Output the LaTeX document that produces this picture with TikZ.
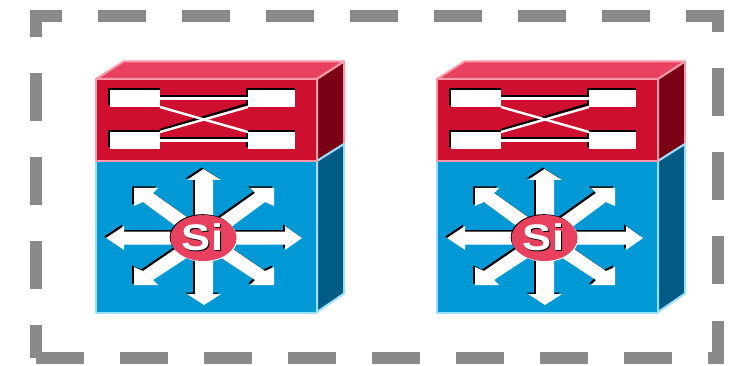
\documentclass[tikz,border=0pt]{standalone}
\usepackage{fontspec}
\setmainfont{Liberation Sans}
\usetikzlibrary{shapes.geometric}
\definecolor{dashgrey}{HTML}{8A8A8A}
\definecolor{redfront}{HTML}{CF0F2F}
\definecolor{redtop}{HTML}{E8405F}
\definecolor{redside}{HTML}{7A0015}
\definecolor{pinkedge}{HTML}{FF99AA}
\definecolor{bluefront}{HTML}{0099D6}
\definecolor{blueside}{HTML}{005C85}
\definecolor{blueedge}{HTML}{99DDFF}
\tikzset{
  redface/.style={draw=pinkedge,line width=2pt,line join=round},
  blueface/.style={draw=blueedge,line width=2pt,line join=round},
  portshadow/.style={fill=black},
  portbox/.style={fill=white},
  wireshadow/.style={draw=black,line width=2.4pt},
  wirelink/.style={draw=white,line width=2.4pt},
  siellipse/.style={ellipse,minimum width=66pt,minimum height=46pt,inner sep=0pt},
  silabel/.style={font=\bfseries\fontsize{37}{37}\selectfont,xscale=1.18,inner sep=0pt}
}
\newcommand{\stararms}[1]{%
  \fill[#1] (203.5,169) -- (221,180) -- (213,180) -- (213,238) -- (195,238) -- (195,180) -- (187,180) -- cycle;
  \fill[#1] (204,305) -- (221,294) -- (213,294) -- (213,238) -- (195,238) -- (195,294) -- (187,294) -- cycle;
  \fill[#1] (106,238) -- (124,226) -- (124,231.5) -- (204,231.5) -- (204,244.5) -- (124,244.5) -- (124,250) -- cycle;
  \fill[#1] (302,238) -- (285,226) -- (285,231.5) -- (204,231.5) -- (204,244.5) -- (285,244.5) -- (285,250) -- cycle;
  \fill[#1] (134,188) -- (158,188) -- (153,193) -- (208,232) -- (200,244) -- (143,202) -- (134,206) -- cycle;
  \fill[#1] (274,188) -- (250,188) -- (255,193) -- (200,232) -- (208,244) -- (265,202) -- (274,206) -- cycle;
  \fill[#1] (134,285) -- (158,285) -- (153,280) -- (208,244) -- (200,232) -- (143,271) -- (134,267) -- cycle;
  \fill[#1] (274,285) -- (250,285) -- (255,280) -- (200,244) -- (208,232) -- (265,271) -- (274,267) -- cycle;
}
\newcommand{\switchunit}[2]{%
\begin{scope}[shift={(#1,0)}]
  \path[redface,fill=redtop] (96,79) -- (123.5,61.5) -- (344,61.5) -- (317,79) -- cycle;
  \path[redface,fill=redside] (317,79) -- (344,61.5) -- (344,144) -- (317,161) -- cycle;
  \path[blueface,fill=blueside] (317,161) -- (344,144) -- (344,293.5) -- (317,312) -- cycle;
  \path[blueface,fill=bluefront] (96,161) rectangle (317,313);
  \path[redface,fill=redfront] (96,79) rectangle (317,161);
  % ports and links
  \fill[portshadow] (108,88) rectangle (160,105);
  \fill[portshadow] (246,88) rectangle (295,105);
  \fill[portshadow] (108,130) rectangle (160,147);
  \fill[portshadow] (246,130) rectangle (295,147);
  \path[wireshadow] (160,96.5) -- (248,96.5);
  \path[wireshadow] (160,138.5) -- (248,138.5);
  \path[wireshadow] (160,130) -- (248,104);
  \path[wirelink] (160,98.5) -- (248,98.5);
  \path[wirelink] (160,140.5) -- (248,140.5);
  \path[wirelink] (160,107) -- (248,132);
  \path[wirelink] (160,132) -- (248,107);
  \fill[portbox] (110,90) rectangle (160,107);
  \fill[portbox] (248,90) rectangle (295,107);
  \fill[portbox] (110,132) rectangle (160,149);
  \fill[portbox] (248,132) rectangle (295,149);
  % star of arrows
  \stararms{black,shift={(-1.8,-1.5)}}
  \stararms{white}
  \node[siellipse,fill=black] (#2k) at (202.7,237.2) {};
  \node[siellipse,fill=white] (#2w) at (204.3,238.8) {};
  \node[siellipse,fill=redtop] (#2e) at (203.5,238) {};
  \node[silabel,text=black] (#2s) at (203.6,238) {Si};
  \node[silabel,text=white] (#2t) at (202.6,237) {Si};
\end{scope}}
\begin{document}
\begin{tikzpicture}[x=1pt,y=-1pt]
\useasboundingbox (0,0) rectangle (736,366);
\fill[white] (0,0) rectangle (736,366);
% top dashes
\foreach \a/\b in {30/62,98/146,182/230,266/314,350/398,434/482,518/566,602/650,686/724}
  \fill[dashgrey] (\a,10.5) rectangle (\b,22);
% bottom dashes
\foreach \a/\b in {36/84,120/168,204/252,288/336,372/420,456/504,540/588,624/672,708/724}
  \fill[dashgrey] (\a,352) rectangle (\b,364);
% left dashes
\foreach \a/\b in {10.5/37,73/121,157/205,241/289,325/358}
  \fill[dashgrey] (30,\a) rectangle (42,\b);
% right dashes
\foreach \a/\b in {10.5/32,68/116,152/200,236/284,321/364}
  \fill[dashgrey] (712,\a) rectangle (724,\b);
\switchunit{0}{a}
\switchunit{341}{b}
\end{tikzpicture}
\end{document}
